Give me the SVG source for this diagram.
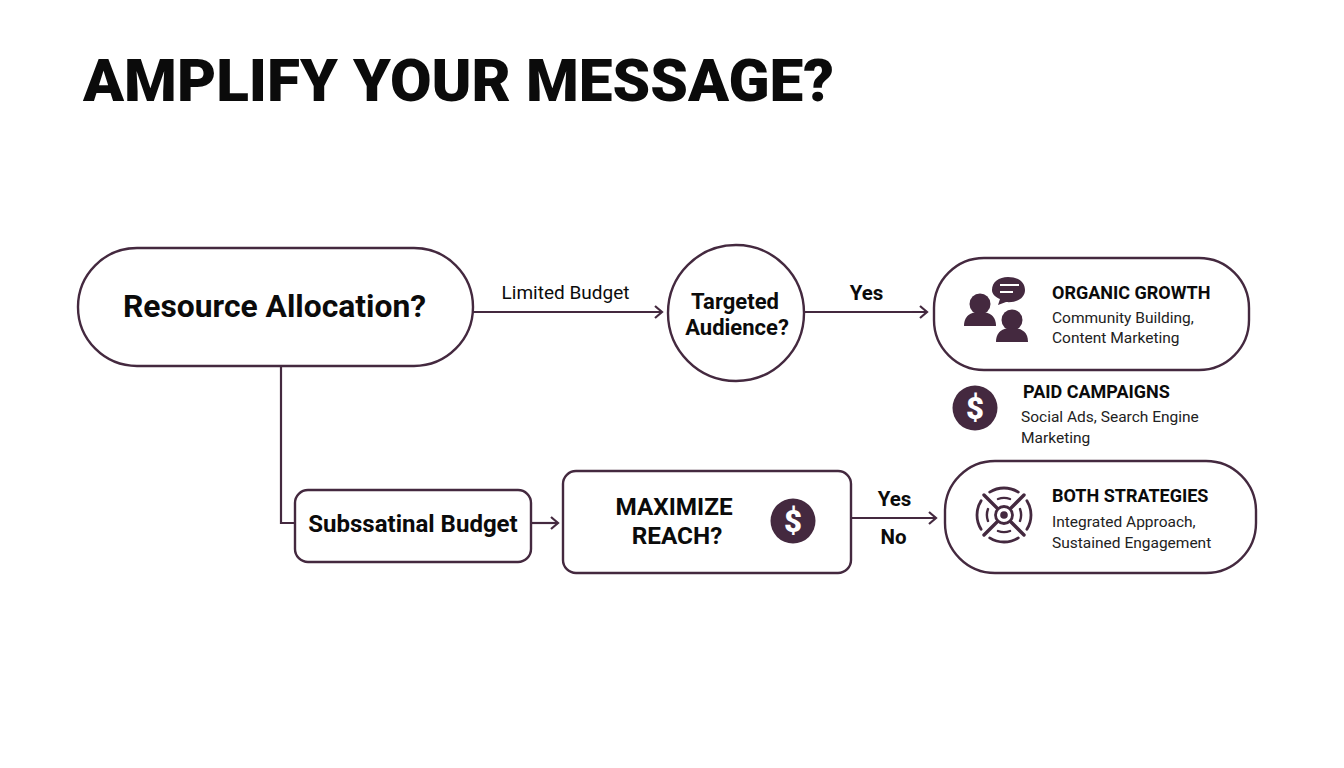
<svg xmlns="http://www.w3.org/2000/svg" width="1344" height="768" viewBox="0 0 1344 768">
<style>
text{font-family:Roboto,"Liberation Sans",sans-serif;fill:#0b0b0b}
.n{fill:#fff;stroke:#44293f;stroke-width:2.4}
.c{fill:none;stroke:#44293f;stroke-width:2.2}
.t{font-weight:700;font-size:18px}
.s{font-size:15.500px;fill:#222}
.m{text-anchor:middle;font-weight:700}
.i{fill:#44293f}
.is{fill:none;stroke:#44293f;stroke-linecap:round}
.d{fill:#fff;font-weight:900;font-size:31px;text-anchor:middle}
</style>
<defs><marker id="a" markerWidth="14" markerHeight="14" refX="11" refY="7" orient="auto" markerUnits="userSpaceOnUse"><path d="M4 1L11 7L4 13" fill="none" stroke="#44293f" stroke-width="2.200"/></marker></defs>
<rect width="1344" height="768" fill="#fff"/>
<text x="83" y="101" font-size="60" font-weight="900" id="title" textLength="751" lengthAdjust="spacingAndGlyphs">AMPLIFY YOUR MESSAGE?</text>
<g id="connectors">
<path class="c" d="M473 312H662" marker-end="url(#a)"/>
<path class="c" d="M805 312H927" marker-end="url(#a)"/>
<path class="c" d="M281 366V523H295"/>
<path class="c" d="M531 523H558" marker-end="url(#a)"/>
<path class="c" d="M851 518H936" marker-end="url(#a)"/>
</g>
<g id="edge-labels">
<text x="565.500" y="299" font-size="19" text-anchor="middle">Limited Budget</text>
<text x="866.500" y="300" font-size="20.500" class="m">Yes</text>
<text x="894.500" y="506" font-size="20.500" class="m">Yes</text>
<text x="893.500" y="544" font-size="20.500" class="m">No</text>
</g>
<g id="resource"><rect class="n" x="78" y="248" width="395" height="118" rx="59"/><text x="274.500" y="317" font-size="31.800" class="m">Resource Allocation?</text></g>
<g id="targeted"><circle class="n" cx="736" cy="313" r="68"/><text x="735" y="309" font-size="22" class="m">Targeted</text><text x="737" y="335" font-size="22" class="m">Audience?</text></g>
<g id="organic"><rect class="n" x="934" y="258" width="315" height="112" rx="50"/>
<circle class="i" cx="980" cy="304" r="10.500"/><path class="i" d="M964 326C964 314 973 312 980 312C987 312 996 314 996 326Z"/>
<circle class="i" cx="1012" cy="320" r="10.500"/><path class="i" d="M996 342C996 330 1005 328 1012 328C1019 328 1028 330 1028 342Z"/>
<path class="i" d="M1008 277C1018 277 1025 282 1025 290C1025 298 1017 303 1006 302L998 305L1000 299C995 297 992 294 992 290C992 282 999 277 1008 277Z"/>
<path d="M1000 285H1019M1000 292H1013" stroke="#fff" stroke-width="2" fill="none"/>
<text x="1052" y="299" class="t">ORGANIC GROWTH</text><text x="1052" y="323" class="s">Community Building,</text><text x="1052" y="343" class="s">Content Marketing</text></g>
<g id="paid"><circle class="i" cx="975" cy="408" r="22.500"/><text x="975" y="419" class="d">$</text>
<text x="1023" y="398" class="t">PAID CAMPAIGNS</text><text x="1021" y="422" class="s">Social Ads, Search Engine</text><text x="1021" y="443" class="s">Marketing</text></g>
<g id="substantial"><rect class="n" x="295" y="490" width="236" height="72" rx="13"/><text x="413" y="532" font-size="24" class="m">Subssatinal Budget</text></g>
<g id="maximize"><rect class="n" x="563" y="471" width="288" height="102" rx="13"/><text x="674" y="515" font-size="24.300" class="m">MAXIMIZE</text><text x="677" y="544" font-size="24.300" class="m">REACH?</text>
<circle class="i" cx="793" cy="521" r="22.500"/><text x="793" y="532" class="d">$</text></g>
<g id="both"><rect class="n" x="945" y="461" width="311" height="112" rx="50"/>
<path class="is" stroke-width="2.800" d="M989.700 492.100A27 27 0 0 1 1018.300 492.100M1026.900 500.700A27 27 0 0 1 1026.900 529.300M1018.300 537.900A27 27 0 0 1 989.700 537.900M981.100 529.300A27 27 0 0 1 981.100 500.700"/>
<path class="is" stroke-width="2.400" d="M998 499A17 17 0 0 1 1010 499M1020 509A17 17 0 0 1 1020 521M1010 531A17 17 0 0 1 998 531M988 521A17 17 0 0 1 988 509"/>
<path class="is" stroke-width="3.400" d="M984 495L1024 535M1024 495L984 535"/>
<circle cx="1004" cy="515" r="8.500" fill="#fff" stroke="#44293f" stroke-width="2.800"/><circle class="i" cx="1004" cy="515" r="3.800"/>
<text x="1052" y="502" class="t">BOTH STRATEGIES</text><text x="1052" y="527" class="s">Integrated Approach,</text><text x="1052" y="548" class="s">Sustained Engagement</text></g>
</svg>
